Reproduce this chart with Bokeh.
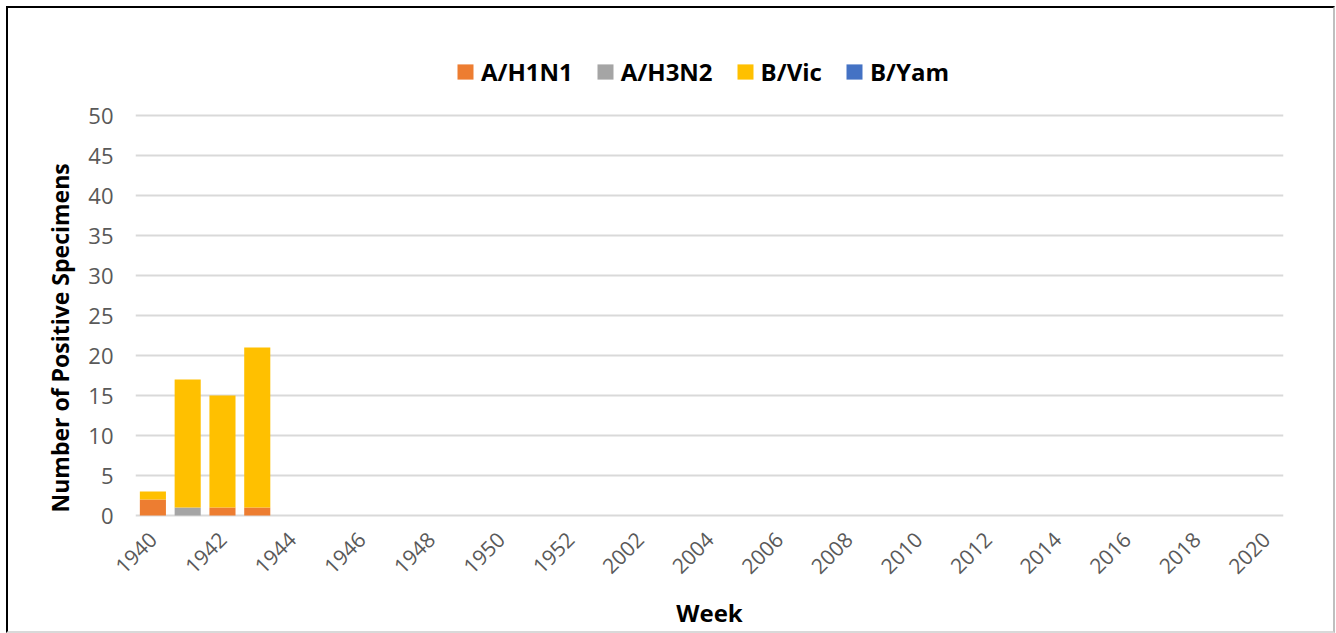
import math
from bokeh.plotting import figure
from bokeh.models import (ColumnDataSource, Range1d, FixedTicker,
                          Legend, LegendItem, Title)
from bokeh.embed import file_html
from bokeh.resources import INLINE

weeks = ["1940", "1941", "1942", "1943", "1944", "1945", "1946", "1947",
         "1948", "1949", "1950", "1951", "1952", "2001", "2002", "2003",
         "2004", "2005", "2006", "2007", "2008", "2009", "2010", "2011",
         "2012", "2013", "2014", "2015", "2016", "2017", "2018", "2019",
         "2020"]
a_h1n1 = [2, 0, 1, 1, 0, 0, 0, 0, 0, 0, 0, 0, 0, 0, 0, 0, 0,
          0, 0, 0, 0, 0, 0, 0, 0, 0, 0, 0, 0, 0, 0, 0, 0]
a_h3n2 = [0, 1, 0, 0, 0, 0, 0, 0, 0, 0, 0, 0, 0, 0, 0, 0, 0,
          0, 0, 0, 0, 0, 0, 0, 0, 0, 0, 0, 0, 0, 0, 0, 0]
b_vic = [1, 16, 14, 20, 0, 0, 0, 0, 0, 0, 0, 0, 0, 0, 0, 0, 0,
         0, 0, 0, 0, 0, 0, 0, 0, 0, 0, 0, 0, 0, 0, 0, 0]
b_yam = [0, 0, 0, 0, 0, 0, 0, 0, 0, 0, 0, 0, 0, 0, 0, 0, 0,
         0, 0, 0, 0, 0, 0, 0, 0, 0, 0, 0, 0, 0, 0, 0, 0]
series = ["A/H1N1", "A/H3N2", "B/Vic", "B/Yam"]
colors = ["#ED7D31", "#A5A5A5", "#FFC000", "#4472C4"]
y_ticks = [0, 5, 10, 15, 20, 25, 30, 35, 40, 45, 50]

idx = list(range(len(weeks)))
src = ColumnDataSource(data={"x": idx, "week": weeks, "A/H1N1": a_h1n1,
                             "A/H3N2": a_h3n2, "B/Vic": b_vic,
                             "B/Yam": b_yam})

FONT = "Open Sans"

# frame extends above 50 so the legend can sit inside it
p = figure(x_range=Range1d(-0.5, len(weeks) - 0.5),
           y_range=Range1d(-0.25, 58.75),
           frame_width=1148, frame_height=472, output_backend="svg",
           toolbar_location=None,
           min_border_left=127, min_border_right=50,
           min_border_top=37, min_border_bottom=114)
p.styles = {"margin": "6px 0 0 6px",
            "border-left": "2px solid #000000",
            "border-top": "2px solid #000000",
            "border-right": "2px solid #BFBFBF",
            "border-bottom": "2px solid #D9D9D9"}
p.outline_line_color = None
p.background_fill_color = "white"
p.border_fill_color = "white"

rs = p.vbar_stack(series, x="x", width=0.75, color=colors, source=src,
                  line_color=None)

legend = Legend(items=[LegendItem(label=s, renderers=[r])
                       for s, r in zip(series, rs)],
                orientation="horizontal", location=(320, 429))
legend.label_text_font = FONT
legend.label_text_font_style = "bold"
legend.label_text_font_size = "24px"
legend.label_text_color = "#000000"
legend.glyph_width = 20
legend.glyph_height = 19
legend.label_standoff = 6
legend.spacing = 22
legend.border_line_color = None
legend.background_fill_alpha = 0
legend.padding = 0
legend.margin = 0
p.add_layout(legend, "center")

p.xgrid.grid_line_color = None
p.ygrid.grid_line_color = "#D9D9D9"
p.ygrid.grid_line_width = 2
p.yaxis.ticker = FixedTicker(ticks=y_ticks)
p.xaxis.ticker = FixedTicker(ticks=idx[0::2])
p.xaxis.major_label_overrides = {i: weeks[i] for i in idx}

for ax in (p.xaxis[0], p.yaxis[0]):
    ax.axis_line_color = None
    ax.major_tick_line_color = None
    ax.minor_tick_line_color = None
    ax.major_tick_out = 0
    ax.major_tick_in = 0
    ax.minor_tick_out = 0
    ax.minor_tick_in = 0
    ax.major_label_text_font = FONT
    ax.major_label_text_color = "#595959"
    ax.axis_label_text_font = FONT
    ax.axis_label_text_font_style = "bold"
    ax.axis_label_text_color = "#000000"

p.xaxis.major_label_text_font_size = "21px"
p.yaxis.major_label_text_font_size = "22px"
p.yaxis.major_label_standoff = 22

ytitle = Title(text="Number of Positive Specimens", align="left",
               offset=5, text_font=FONT, text_font_style="bold",
               text_font_size="23px", text_color="#000000", standoff=20)
p.add_layout(ytitle, "left")

p.xaxis.axis_label = "Week"
p.xaxis.axis_label_text_font_size = "24px"
p.xaxis.major_label_orientation = math.pi / 4
p.xaxis.major_label_standoff = 18
p.xaxis.axis_label_standoff = 12

open("out.html", "w").write(file_html(p, INLINE))
